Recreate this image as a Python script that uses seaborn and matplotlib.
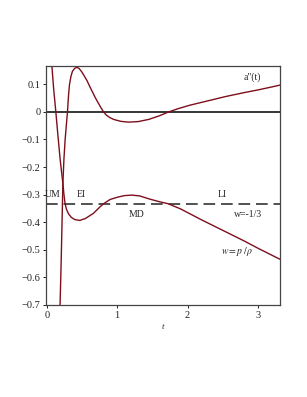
import matplotlib
matplotlib.use("Agg")
import matplotlib.pyplot as plt
import seaborn as sns
import pandas as pd

# a''(t) curve
t_acc = [0.180, 0.190, 0.205, 0.218, 0.230, 0.245, 0.262, 0.280, 0.295, 0.310, 0.324, 0.345,
         0.366, 0.400, 0.430, 0.460, 0.500, 0.570, 0.620, 0.690, 0.760, 0.807, 0.850, 0.900,
         0.950, 1.050, 1.160, 1.300, 1.450, 1.600, 1.730, 1.880, 2.040, 2.300, 2.540, 2.800,
         3.000, 3.200, 3.320]
acc = [-0.76, -0.70, -0.55, -0.40, -0.26, -0.17, -0.10, -0.045, 0.0, 0.06, 0.10, 0.13,
       0.148, 0.159, 0.162, 0.158, 0.145, 0.115, 0.088, 0.052, 0.020, 0.0, -0.012, -0.021,
       -0.027, -0.034, -0.037, -0.035, -0.027, -0.014, 0.0, 0.013, 0.025, 0.041, 0.056, 0.070,
       0.080, 0.091, 0.098]

# w = p / rho curve
t_w = [0.065, 0.074, 0.100, 0.130, 0.154, 0.190, 0.230, 0.245, 0.260, 0.280, 0.310, 0.350,
       0.400, 0.470, 0.550, 0.665, 0.760, 0.810, 0.900, 1.000, 1.100, 1.210, 1.320, 1.470,
       1.600, 1.720, 1.900, 2.200, 2.500, 2.800, 3.000, 3.320]
w = [0.21, 0.167, 0.08, 0.0, -0.07, -0.17, -0.26, -0.30, -0.331, -0.353, -0.370, -0.383,
     -0.391, -0.394, -0.387, -0.368, -0.344, -0.333, -0.318, -0.310, -0.304, -0.302, -0.305, -0.317,
     -0.326, -0.333, -0.352, -0.392, -0.430, -0.468, -0.495, -0.536]

xticks = [0, 1, 2, 3]
yticks = [0.1, 0.0, -0.1, -0.2, -0.3, -0.4, -0.5, -0.6, -0.7]

sns.set_style("ticks")
plt.rcParams['font.family'] = ['Liberation Serif', 'DejaVu Serif']
plt.rcParams['mathtext.fontset'] = 'stix'

fig = plt.figure(figsize=(3.07, 3.97), dpi=100)
ax = fig.add_axes([0.1498, 0.2305, 0.7638, 0.6033])

red = '#7d0f1c'
df_a = pd.DataFrame({'t': t_acc, 'v': acc})
df_w = pd.DataFrame({'t': t_w, 'v': w})
sns.lineplot(data=df_a, x='t', y='v', ax=ax, color=red, lw=1.0, estimator=None, sort=False)
sns.lineplot(data=df_w, x='t', y='v', ax=ax, color=red, lw=1.0, estimator=None, sort=False)

ax.axhline(0, color='black', lw=1.1, zorder=1)
ax.axhline(-1/3, color='#333333', lw=1.2, dashes=(7, 3.5), zorder=1)

ax.set_xlim(-0.01, 3.32)
ax.set_ylim(-0.703, 0.167)
ax.set_xticks(xticks)
ax.set_yticks(yticks)
ax.set_xticklabels([str(v) for v in xticks])
ax.set_yticklabels(['0.1' if v > 0 else ('0' if v == 0 else '\u2212' + f'{abs(v):g}') for v in yticks])
ax.tick_params(labelsize=7.5, length=2.5, width=0.7, pad=1.5, colors='#222222')
for s in ax.spines.values():
    s.set_linewidth(0.9)
    s.set_color('#444444')

ax.set_xlabel('t', fontsize=6.5, style='italic', labelpad=2)
ax.set_ylabel('')

fs = 7
ax.text(2.92, 0.125, 'a"(t)', fontsize=fs, ha='center', va='center')
ax.text(0.09, -0.30, 'UM', fontsize=fs, ha='center', va='center')
ax.text(0.49, -0.30, 'EI', fontsize=fs, ha='center', va='center')
ax.text(1.27, -0.373, 'MD', fontsize=fs, ha='center', va='center')
ax.text(2.49, -0.30, 'LI', fontsize=fs, ha='center', va='center')
ax.text(2.86, -0.373, 'w=-1/3', fontsize=fs, ha='center', va='center')
ax.text(2.70, -0.506, r'$w = p\,/\,\rho$', fontsize=fs, ha='center', va='center')

fig.savefig('out.png', dpi=100)
